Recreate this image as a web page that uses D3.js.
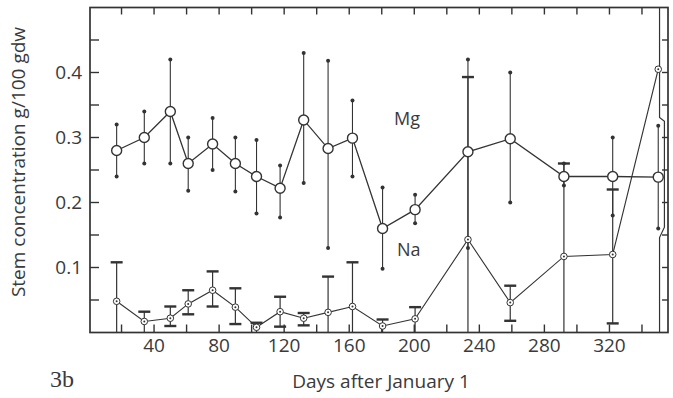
<!DOCTYPE html>
<html>
<head>
<meta charset="utf-8">
<script src="https://cdn.jsdelivr.net/npm/d3@7"></script>
<style>
  html, body { margin: 0; padding: 0; background: #fff; }
  svg { display: block; }
  text { font-family: "Open Sans", "DejaVu Sans", sans-serif; fill: #3a3a3a; }
</style>
</head>
<body>
<svg id="chart" width="673" height="398"></svg>
<script>
// Stem Mg / Na concentration vs day of year (fig 3b)

const days = [17, 34, 50, 61, 76, 90, 103, 117.5, 132, 147, 162, 180.5, 200.5, 233, 259, 292, 322, 350];

const mg   = [0.28, 0.30, 0.34, 0.26, 0.29, 0.26, 0.24, 0.222, 0.327, 0.283, 0.299, 0.16, 0.189, 0.278, 0.298, 0.24, 0.24, 0.239];
const mgHi = [0.32, 0.34, 0.42, 0.30, 0.33, 0.30, 0.296, 0.257, 0.43, 0.418, 0.357, 0.223, 0.212, 0.42, 0.40, 0.26, 0.30, 0.318];
const mgLo = [0.24, 0.26, 0.26, 0.218, 0.25, 0.217, 0.183, 0.177, 0.23, 0.13, 0.24, 0.098, 0.168, 0.13, 0.20, 0.226, 0.18, 0.16];

const na   = [0.048, 0.017, 0.022, 0.044, 0.065, 0.039, 0.008, 0.032, 0.022, 0.031, 0.04, 0.01, 0.021, 0.143, 0.046, 0.117, 0.12, 0.405];
const naHi = [0.108, 0.032, 0.04, 0.065, 0.094, 0.068, 0.015, 0.055, 0.03, 0.086, 0.108, 0.02, 0.039, 0.393, 0.072, 0.26, 0.22, null];
const naLo = [0, 0, 0.01, 0.028, 0.04, 0.013, 0, 0.009, 0.011, 0, 0, 0, 0, 0, 0.018, 0, 0.014, null];

// odd bracket-shaped bar drawn for the last Na sample, [day, value]
const naLastBar = [[350.8, 0.5], [350.8, 0.331], [353.8, 0.325], [353.8, 0.162], [350.8, 0.146], [350.8, 0]];

const xTicks = d3.range(20, 341, 20);
const xLabels = [40, 80, 120, 160, 200, 240, 280, 320];
const yTicks = d3.range(0.05, 0.5, 0.05);
const yLabels = [0.1, 0.2, 0.3, 0.4];

const INK = "#333";
const svg = d3.select("#chart");

const x = d3.scaleLinear().domain([0, 356]).range([89, 668]);
const y = d3.scaleLinear().domain([0, 0.5]).range([332.5, 7.5]);

const [x0, x1] = x.range();
const [yb, yt] = y.range();

// frame
svg.append("rect")
  .attr("x", x0 + 1).attr("y", yt)
  .attr("width", x1 - x0 - 1).attr("height", yb - yt)
  .attr("fill", "none").attr("stroke", INK).attr("stroke-width", 1.7);

// inward ticks on all four sides
const tk = svg.append("g").attr("stroke", INK).attr("stroke-width", 1.4);
tk.selectAll(".tb").data(xTicks).join("line")
  .attr("x1", x).attr("x2", x).attr("y1", yb).attr("y2", yb - 8);
tk.selectAll(".tt").data(xTicks).join("line")
  .attr("x1", x).attr("x2", x).attr("y1", yt).attr("y2", yt + 7);
tk.selectAll(".tl").data(yTicks).join("line")
  .attr("x1", x0 + 1).attr("x2", x0 + 10).attr("y1", y).attr("y2", y);
tk.selectAll(".tr").data(yTicks).join("line")
  .attr("x1", x1).attr("x2", x1 - 6).attr("y1", y).attr("y2", y);

// tick labels
svg.append("g").selectAll("text").data(xLabels).join("text")
  .attr("x", x).attr("y", yb + 19)
  .attr("text-anchor", "middle").attr("font-size", 19)
  .text(d => d);
svg.append("g").selectAll("text").data(yLabels).join("text")
  .attr("x", x0 - 7).attr("y", y).attr("dy", "0.36em")
  .attr("text-anchor", "end").attr("font-size", 19)
  .text(d => d3.format(".1f")(d));

// axis titles
svg.append("text")
  .attr("transform", `translate(25,162) rotate(-90)`)
  .attr("text-anchor", "middle").attr("font-size", 19)
  .text("Stem concentration g/100 gdw");
svg.append("text")
  .attr("x", 381).attr("y", 388)
  .attr("text-anchor", "middle").attr("font-size", 19)
  .text("Days after January 1");
// panel tag is serif; style() so it beats the css text rule
svg.append("text")
  .attr("x", 50).attr("y", 387)
  .style("font-family", "'Liberation Serif', 'DejaVu Serif', serif")
  .attr("font-size", 24)
  .text("3b");

const mgPts = days.map((d, i) => ({ d, v: mg[i], hi: mgHi[i], lo: mgLo[i] }));
const naPts = days.map((d, i) => ({ d, v: na[i], hi: naHi[i], lo: naLo[i] }));

const line = d3.line().x(p => x(p.d)).y(p => y(p.v));

// Na error bars: crossbar caps, none where the bar runs into the axis
const naErr = svg.append("g").attr("stroke", INK);
const naBars = naPts.filter(p => p.hi != null);
naErr.selectAll(".v").data(naBars).join("line")
  .attr("x1", p => x(p.d)).attr("x2", p => x(p.d))
  .attr("y1", p => y(p.hi)).attr("y2", p => y(p.lo))
  .attr("stroke-width", 1.2);
naErr.selectAll(".ct").data(naBars).join("line")
  .attr("x1", p => x(p.d) - 6).attr("x2", p => x(p.d) + 6)
  .attr("y1", p => y(p.hi)).attr("y2", p => y(p.hi))
  .attr("stroke-width", 2.4);
naErr.selectAll(".cb").data(naBars.filter(p => p.lo > 0)).join("line")
  .attr("x1", p => x(p.d) - 6).attr("x2", p => x(p.d) + 6)
  .attr("y1", p => y(p.lo)).attr("y2", p => y(p.lo))
  .attr("stroke-width", 2.4);
svg.append("path")
  .attr("d", d3.line().x(p => x(p[0])).y(p => y(p[1]))(naLastBar))
  .attr("fill", "none").attr("stroke", INK).attr("stroke-width", 1.2);

// Mg error bars: thin line with dot ends
const mgErr = svg.append("g");
mgErr.selectAll("line").data(mgPts).join("line")
  .attr("x1", p => x(p.d)).attr("x2", p => x(p.d))
  .attr("y1", p => y(p.hi)).attr("y2", p => y(p.lo))
  .attr("stroke", INK).attr("stroke-width", 1.1);
mgErr.selectAll(".dh").data(mgPts).join("circle")
  .attr("cx", p => x(p.d)).attr("cy", p => y(p.hi)).attr("r", 2).attr("fill", INK);
mgErr.selectAll(".dl").data(mgPts).join("circle")
  .attr("cx", p => x(p.d)).attr("cy", p => y(p.lo)).attr("r", 2).attr("fill", INK);

// series lines
svg.append("path").attr("d", line(mgPts))
  .attr("fill", "none").attr("stroke", INK).attr("stroke-width", 1.3);
svg.append("path").attr("d", line(naPts))
  .attr("fill", "none").attr("stroke", INK).attr("stroke-width", 1.1);

// markers
svg.append("g").selectAll("circle").data(mgPts).join("circle")
  .attr("cx", p => x(p.d)).attr("cy", p => y(p.v)).attr("r", 5)
  .attr("fill", "#fff").attr("stroke", INK).attr("stroke-width", 1.4);
const naM = svg.append("g");
naM.selectAll(".o").data(naPts).join("circle")
  .attr("cx", p => x(p.d)).attr("cy", p => y(p.v)).attr("r", 3.3)
  .attr("fill", "#fff").attr("stroke", INK).attr("stroke-width", 1);
naM.selectAll(".c").data(naPts).join("circle")
  .attr("cx", p => x(p.d)).attr("cy", p => y(p.v)).attr("r", 1)
  .attr("fill", INK);

// series labels
svg.append("text").attr("x", 394).attr("y", 125).attr("font-size", 18).text("Mg");
svg.append("text").attr("x", 397).attr("y", 256).attr("font-size", 18).text("Na");
</script>
</body>
</html>
